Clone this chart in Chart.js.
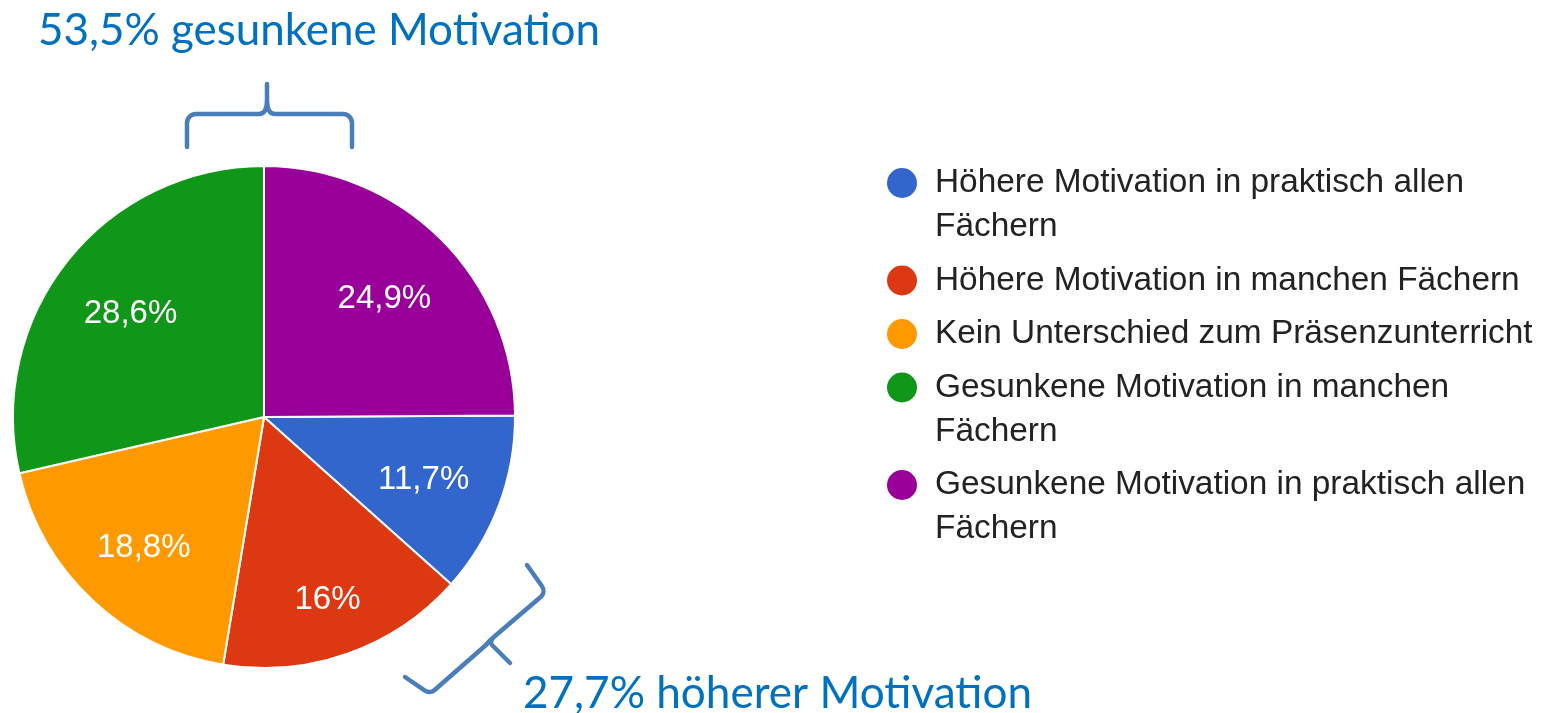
<!DOCTYPE html>
<html lang="de">
<head>
<meta charset="utf-8">
<title>Motivation im Fernunterricht</title>
<script src="https://cdn.jsdelivr.net/npm/chart.js@4.4.1/dist/chart.umd.min.js"></script>
<style>
    html, body { margin: 0; padding: 0; background: #fff; }
    #wrap { width: 1554px; height: 713px; position: relative; }
</style>
</head>
<body>
<div id="wrap"><canvas id="pie" width="1554" height="713"></canvas></div>
<script>
// ── Data ─────────────────────────────────────────────────────────────────────
const categories = [
    'Höhere Motivation in praktisch allen Fächern',
    'Höhere Motivation in manchen Fächern',
    'Kein Unterschied zum Präsenzunterricht',
    'Gesunkene Motivation in manchen Fächern',
    'Gesunkene Motivation in praktisch allen Fächern'
];
const shares = [11.7, 16, 18.8, 28.6, 24.9];
const sliceColors = ['#3366cc', '#dc3912', '#ff9900', '#109618', '#990099'];
const noteTop = '53,5% gesunkene Motivation';
const noteBottom = '27,7% höherer Motivation';

const ACCENT = '#0070c0';
const BRACE = '#4a7ebb';
// how far out along the slice each percentage sits (share of the radius)
const LABEL_DIST = [0.68, 0.76, 0.70, 0.68, 0.68];

// last slice sits between 12 and 3 o'clock, so start the first one right after it
const total = shares.reduce((a, b) => a + b, 0);
const startRotation = shares[shares.length - 1] / total * 360;

const fmt = v => v.toLocaleString('de-DE') + '%';

// ── Plugins ──────────────────────────────────────────────────────────────────

const sliceLabels = {
    id: 'sliceLabels',
    afterDatasetsDraw(chart) {
        const { ctx } = chart;
        const arcs = chart.getDatasetMeta(0).data;
        ctx.save();
        ctx.fillStyle = '#fff';
        ctx.font = '33px "Liberation Sans", Arial, sans-serif';
        ctx.textAlign = 'center';
        ctx.textBaseline = 'middle';
        arcs.forEach((arc, i) => {
            const mid = (arc.startAngle + arc.endAngle) / 2;
            const r = arc.outerRadius * LABEL_DIST[i];
            ctx.fillText(fmt(shares[i]), arc.x + Math.cos(mid) * r, arc.y + Math.sin(mid) * r + 3);
        });
        ctx.restore();
    }
};

function wrapWords(ctx, text, maxW) {
    const words = text.split(' ');
    const lines = [];
    let line = '';
    words.forEach(w => {
        const test = line ? line + ' ' + w : w;
        if (line && ctx.measureText(test).width > maxW) {
            lines.push(line);
            line = w;
        } else {
            line = test;
        }
    });
    if (line) lines.push(line);
    return lines;
}

const sideLegend = {
    id: 'sideLegend',
    afterDraw(chart) {
        const { ctx } = chart;
        const dotX = 902, textX = 935;
        let y = 183;
        ctx.save();
        ctx.font = '33.4px "Liberation Sans", Arial, sans-serif';
        ctx.textBaseline = 'middle';
        categories.forEach((label, i) => {
            ctx.fillStyle = sliceColors[i];
            ctx.beginPath();
            ctx.arc(dotX, y, 15, 0, Math.PI * 2);
            ctx.fill();
            ctx.fillStyle = '#222';
            const lines = wrapWords(ctx, label, 605);
            lines.forEach((ln, j) => {
                ctx.fillText(ln, textX, y);
                if (j < lines.length - 1) y += 44;
            });
            y += 53.5;
        });
        ctx.restore();
    }
};

function fittedText(ctx, text, x, y, width) {
    ctx.save();
    ctx.font = '44px Lato, "Open Sans", sans-serif';
    const w = ctx.measureText(text).width;
    ctx.translate(x, y);
    ctx.scale(width / w, 1);
    ctx.fillText(text, 0, 0);
    ctx.restore();
}

const braces = {
    id: 'braces',
    afterDraw(chart) {
        const { ctx } = chart;
        ctx.save();
        ctx.fillStyle = ACCENT;
        ctx.textBaseline = 'alphabetic';
        fittedText(ctx, noteTop, 38, 45, 562);
        fittedText(ctx, noteBottom, 523, 708, 509);

        ctx.strokeStyle = BRACE;
        ctx.lineWidth = 4.5;
        ctx.lineCap = 'round';
        ctx.lineJoin = 'round';

        // upper brace over the "gesunken" slices
        ctx.beginPath();
        ctx.moveTo(187, 147);
        ctx.arcTo(187, 114, 200, 114, 9);
        ctx.lineTo(259, 114);
        ctx.quadraticCurveTo(267, 114, 267, 100);
        ctx.lineTo(267, 84);
        ctx.moveTo(267, 100);
        ctx.quadraticCurveTo(267, 114, 275, 114);
        ctx.arcTo(352, 114, 352, 130, 9);
        ctx.lineTo(352, 147);
        ctx.stroke();

        // lower, tilted brace beside the "höher" slices
        ctx.beginPath();
        ctx.moveTo(527, 565);
        ctx.arcTo(546, 592, 530, 607, 8);
        ctx.lineTo(495, 636);
        ctx.quadraticCurveTo(489, 641, 492, 645);
        ctx.lineTo(510, 663);
        ctx.moveTo(495, 636);
        ctx.quadraticCurveTo(490, 640, 486, 645);
        ctx.arcTo(430, 694, 415, 684, 8);
        ctx.lineTo(405, 677);
        ctx.stroke();
        ctx.restore();
    }
};

// ── Chart ────────────────────────────────────────────────────────────────────

new Chart(document.getElementById('pie'), {
    type: 'pie',
    data: {
        labels: categories,
        datasets: [{
            data: shares,
            backgroundColor: sliceColors,
            borderColor: '#fff',
            borderWidth: 2
        }]
    },
    options: {
        responsive: false,
        animation: false,
        rotation: startRotation,
        layout: { padding: { left: 12, top: 165, right: 1038, bottom: 44 } },
        plugins: {
            legend: { display: false },
            tooltip: { enabled: false }
        }
    },
    plugins: [sliceLabels, sideLegend, braces]
});
</script>
</body>
</html>
